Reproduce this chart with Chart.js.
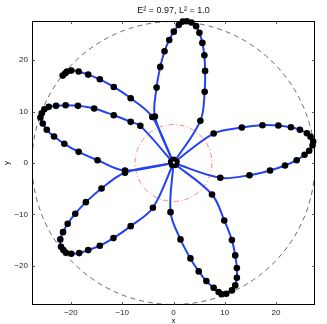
<!DOCTYPE html>
<html>
<head>
<meta charset="utf-8">
<script src="https://cdn.jsdelivr.net/npm/chart.js@4.4.1/dist/chart.umd.min.js"></script>
<style>
html,body{margin:0;padding:0;background:#fff;}
#c{display:block;}
</style>
</head>
<body>
<canvas id="c" width="327" height="324"></canvas>
<script>
// ---- data ----
const titleText = "E\u00B2 = 0.97, L\u00B2 = 1.0";
const tickVals = [-20, -10, 0, 10, 20];
const axisLim = 27.6;
const outerCircleR = 27.6;
const innerCircleR = 7.5;
const pericenter = [0, 0];

// orbit petals (x, y), in the order the curve passes them
const petalUpperLeftHalf = [[-21.61,16.99],[-21.11,17.44],[-20.78,17.77],[-19.94,17.96],[-18.50,17.77],[-16.64,17.18],[-14.37,16.27],[-11.65,14.78],[-8.35,12.58],[-4.14,8.93]];
const petalLeft = [[-6.47,7.22],[-8.35,8.0],[-11.65,9.28],[-15.48,10.58],[-18.64,11.11],[-21.03,11.22],[-22.91,11.11],[-24.33,10.91],[-25.18,10.45],[-25.69,9.67],[-25.96,8.83],[-25.5,7.67],[-24.72,6.45],[-23.3,5.15],[-21.3,3.73],[-18.5,2.17],[-14.82,0.54],[-9.46,-1.46]];
const petalTop = [[-3.63,9.03],[-3.30,14.66],[-2.58,18.68],[-1.75,21.71],[-0.83,23.92],[0.06,25.53],[1.03,26.83],[1.81,27.48],[2.6,27.55],[3.5,27.3],[4.41,26.6],[5.05,25.3],[5.63,23.34],[6.02,20.93],[6.16,17.90],[6.08,13.83],[5.24,8.19]];
const petalRight = [[7.83,5.73],[13.33,6.89],[17.35,7.34],[20.45,7.28],[22.91,6.95],[24.66,6.45],[26.02,5.79],[26.74,5.09],[27.24,4.17],[27.12,3.46],[26.47,2.37],[25.57,1.59],[24.02,0.54],[21.75,-0.49],[18.83,-1.46],[14.82,-2.37],[9.13,-2.87]];
const petalBottomRight = [[7.51,-6.12],[9.90,-11.17],[11.39,-14.99],[12.04,-17.96],[12.36,-20.43],[12.36,-22.29],[12.04,-23.79],[11.39,-24.76],[10.29,-25.4],[9.4,-25.5],[8.8,-25.08],[7.83,-24.24],[6.41,-22.95],[4.92,-21.07],[3.30,-18.54],[1.36,-14.85],[-0.58,-9.55]];
const petalBottomLeft = [[-9.46,-1.9],[-14.04,-4.95],[-17.09,-7.61],[-19.16,-9.86],[-20.64,-11.81],[-21.55,-13.44],[-22.08,-14.85],[-21.94,-16.27],[-21.49,-16.93],[-20.97,-17.44],[-19.94,-17.63],[-18.39,-17.51],[-16.64,-16.93],[-14.37,-16.08],[-11.71,-14.6],[-8.35,-12.27],[-4.02,-8.7]];
const centerDots = [[0.06,0.62],[-0.46,0.24],[-0.27,-0.36],[0.38,-0.36],[0.58,0.24]];
const centerMark = [[0.05,0.08]];

// ---- styles ----
const lineBlue = 'rgb(35,65,245)';
const fontFam = '"Liberation Sans", Arial, Helvetica, sans-serif';

const toXY = a => a.map(p => ({x: p[0], y: p[1]}));
const fullPetals = [petalLeft, petalTop, petalRight, petalBottomRight, petalBottomLeft];

const lineSets = fullPetals.map(p => ({
  data: toXY([pericenter].concat(p, [pericenter])),
  showLine: true, borderColor: lineBlue, borderWidth: 2, pointRadius: 0,
  tension: 0.35, fill: false, order: 3
}));
lineSets.push({
  data: toXY(petalUpperLeftHalf.concat([pericenter])),
  showLine: true, borderColor: lineBlue, borderWidth: 2, pointRadius: 0,
  tension: 0.35, fill: false, order: 3
});

const allDots = [].concat(petalUpperLeftHalf, petalLeft, petalTop, petalRight, petalBottomRight, petalBottomLeft, centerDots);
const dotSet = {
  data: toXY(allDots), showLine: false, pointRadius: 3.3,
  pointBackgroundColor: '#000', pointBorderColor: '#000', pointBorderWidth: 0,
  clip: false, order: 1
};
const markSet = {
  data: toXY(centerMark), showLine: false, pointRadius: 1.1,
  pointBackgroundColor: '#fff', pointBorderColor: '#fff', pointBorderWidth: 0,
  clip: false, order: 0
};

const decor = {
  id: 'decor',
  beforeDatasetsDraw(chart) {
    const {ctx, chartArea: a, scales: {x, y}} = chart;
    ctx.save();
    ctx.beginPath(); ctx.rect(a.left, a.top, a.right - a.left, a.bottom - a.top); ctx.clip();
    const cx = x.getPixelForValue(0), cy = y.getPixelForValue(0);
    const ro = x.getPixelForValue(outerCircleR) - cx;
    ctx.beginPath(); ctx.setLineDash([5, 4]); ctx.lineWidth = 0.8; ctx.strokeStyle = '#444';
    ctx.arc(cx, cy, ro, 0, Math.PI * 2); ctx.stroke();
    const ri = x.getPixelForValue(innerCircleR) - cx;
    ctx.beginPath(); ctx.setLineDash([5, 2.5, 1, 2.5]); ctx.lineWidth = 0.8; ctx.strokeStyle = 'rgba(255,70,70,0.85)';
    ctx.arc(cx, cy, ri, 0, Math.PI * 2); ctx.stroke();
    ctx.restore();
    ctx.save();
    ctx.strokeStyle = '#000'; ctx.lineWidth = 1; ctx.setLineDash([]);
    ctx.strokeRect(Math.round(a.left) + 0.5, Math.round(a.top) + 0.5, Math.round(a.right - a.left) - 1, Math.round(a.bottom - a.top) - 1);
    ctx.strokeStyle = '#333'; ctx.lineWidth = 0.8;
    const tl = 3;
    tickVals.forEach(v => {
      const px = Math.round(x.getPixelForValue(v)) + 0.5;
      ctx.beginPath(); ctx.moveTo(px, a.bottom); ctx.lineTo(px, a.bottom - tl); ctx.stroke();
      ctx.beginPath(); ctx.moveTo(px, a.top); ctx.lineTo(px, a.top + tl); ctx.stroke();
      const py = Math.round(y.getPixelForValue(v)) + 0.5;
      ctx.beginPath(); ctx.moveTo(a.left, py); ctx.lineTo(a.left + tl, py); ctx.stroke();
      ctx.beginPath(); ctx.moveTo(a.right, py); ctx.lineTo(a.right - tl, py); ctx.stroke();
    });
    ctx.restore();
  },
  afterDraw(chart) {
    const {ctx, chartArea: a} = chart;
    ctx.save();
    ctx.fillStyle = '#111';
    ctx.textAlign = 'center'; ctx.textBaseline = 'middle';
    ctx.font = '9px ' + fontFam;
    ctx.fillText(titleText, (a.left + a.right) / 2, 11);
    ctx.font = '8px ' + fontFam;
    ctx.fillText('x', (a.left + a.right) / 2, 321);
    ctx.translate(7, (a.top + a.bottom) / 2); ctx.rotate(-Math.PI / 2);
    ctx.fillText('y', 0, 0);
    ctx.restore();
  }
};

const fmt = v => (v < 0 ? '\u2212' + Math.abs(v) : String(v));
const tickOpts = pad => ({padding: pad, color: '#222', font: {family: fontFam, size: 8}, callback: fmt});

new Chart(document.getElementById('c'), {
  type: 'scatter',
  data: {datasets: [markSet, dotSet].concat(lineSets)},
  options: {
    responsive: false, animation: false, devicePixelRatio: 1,
    layout: {padding: {top: 21, right: 12, left: 0, bottom: 0}},
    plugins: {legend: {display: false}, tooltip: {enabled: false}, title: {display: false}},
    scales: {
      x: {
        type: 'linear', min: -axisLim, max: axisLim,
        afterBuildTicks: s => { s.ticks = tickVals.map(v => ({value: v})); },
        afterFit: s => { s.height = 19; },
        grid: {display: false, drawTicks: false}, border: {display: false},
        ticks: tickOpts(3)
      },
      y: {
        type: 'linear', min: -axisLim, max: axisLim,
        afterBuildTicks: s => { s.ticks = tickVals.map(v => ({value: v})); },
        afterFit: s => { s.width = 32; },
        grid: {display: false, drawTicks: false}, border: {display: false},
        ticks: tickOpts(4)
      }
    }
  },
  plugins: [decor]
});
</script>
</body>
</html>
